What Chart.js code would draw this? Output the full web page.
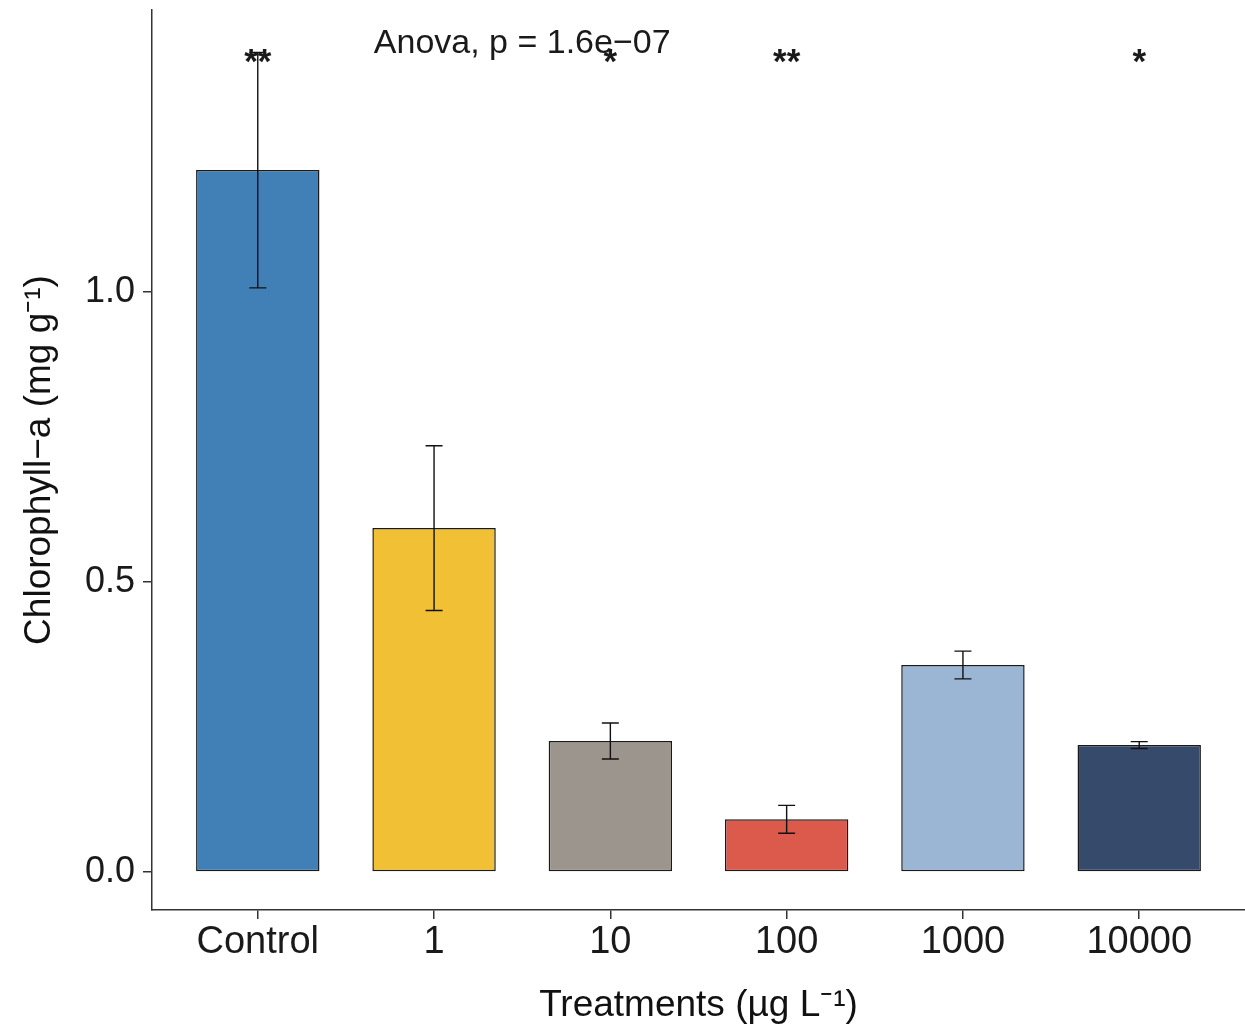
<!DOCTYPE html>
<html>
<head>
<meta charset="utf-8">
<script src="https://cdn.jsdelivr.net/npm/chart.js@4/dist/chart.umd.min.js"></script>
<style>
  html, body { margin: 0; padding: 0; background: #ffffff; }
  canvas { display: block; }
</style>
</head>
<body>
<canvas id="chl-chart" width="1245" height="1028"></canvas>
<script>
// chart values
const categories = ['Control', '1', '10', '100', '1000', '10000'];
const meanValues = [1.21, 0.593, 0.226, 0.091, 0.357, 0.219];
const seValues = [0.203, 0.142, 0.031, 0.024, 0.024, 0.006];
const sigLabels = ['**', '', '*', '**', '', '*'];
const barColors = ['#4180B6', '#F2C035', '#9C958E', '#DB5A4B', '#9BB5D5', '#364B6B'];
const yTicks = [0, 0.5, 1.0];

const FONT = '"Liberation Sans", Arial, Helvetica, sans-serif';

// error bars + annotation text drawn in data coordinates
const annotations = {
    id: 'annotations',
    afterDatasetsDraw(chart) {
        const ctx = chart.ctx;
        const xs = chart.scales.x;
        const ys = chart.scales.y;
        ctx.save();
        ctx.strokeStyle = '#111';
        ctx.lineWidth = 1.4;
        meanValues.forEach((m, i) => {
            const px = xs.getPixelForValue(i);
            const top = ys.getPixelForValue(m + seValues[i]);
            const bot = ys.getPixelForValue(m - seValues[i]);
            ctx.beginPath();
            ctx.moveTo(px, top); ctx.lineTo(px, bot);
            ctx.moveTo(px - 8.5, top); ctx.lineTo(px + 8.5, top);
            ctx.moveTo(px - 8.5, bot); ctx.lineTo(px + 8.5, bot);
            ctx.stroke();
        });

        ctx.fillStyle = '#1a1a1a';
        ctx.textAlign = 'center';
        ctx.textBaseline = 'alphabetic';
        ctx.font = 'bold 35px ' + FONT;
        sigLabels.forEach((s, i) => {
            if (!s) return;
            ctx.fillText(s, xs.getPixelForValue(i), ys.getPixelForValue(1.378));
        });
        ctx.font = '34px ' + FONT;
        ctx.fillText('Anova, p = 1.6e\u221207', xs.getPixelForValue(1.5), ys.getPixelForValue(1.412));
        ctx.restore();
    }
};

const ctx = document.getElementById('chl-chart').getContext('2d');
new Chart(ctx, {
    type: 'bar',
    data: {
        datasets: [{
            data: meanValues.map((v, i) => ({ x: i, y: v })),
            backgroundColor: barColors,
            borderColor: '#1a1a1a',
            borderWidth: 1.5,
            borderSkipped: false,
            barPercentage: 0.7,
            categoryPercentage: 1.0
        }]
    },
    options: {
        responsive: false,
        animation: false,
        layout: { padding: { top: 10, left: 0, right: 0, bottom: 0 } },
        plugins: {
            legend: { display: false },
            tooltip: { enabled: false }
        },
        scales: {
            x: {
                type: 'linear',
                min: -0.6,
                max: 5.6,
                offset: false,
                afterFit: s => { s.height = 118; s.paddingLeft = 0; s.paddingRight = 0; },
                border: { color: '#333', width: 1.5 },
                grid: { offset: false, drawOnChartArea: false, color: '#333', lineWidth: 1.5, tickLength: 9 },
                ticks: {
                    stepSize: 1,
                    includeBounds: false,
                    autoSkip: false,
                    maxRotation: 0,
                    padding: 1,
                    color: '#1a1a1a',
                    font: { family: FONT, size: 38 },
                    callback: v => categories[v]
                },
                title: {
                    display: true,
                    text: 'Treatments (\u00b5g L\u207b\u00b9)',
                    color: '#111',
                    font: { family: FONT, size: 37 },
                    padding: { top: 2, bottom: 0 }
                }
            },
            y: {
                min: -0.0653,
                max: 1.486,
                afterFit: s => { s.width = 152; s.paddingTop = 0; s.paddingBottom = 0; },
                border: { color: '#333', width: 1.5 },
                grid: { drawOnChartArea: false, color: '#333', lineWidth: 1.5, tickLength: 9 },
                ticks: {
                    stepSize: 0.5,
                    includeBounds: false,
                    padding: 8,
                    color: '#1a1a1a',
                    font: { family: FONT, size: 36 },
                    callback: v => yTicks.includes(v) ? v.toFixed(1) : null
                },
                title: {
                    display: true,
                    text: 'Chlorophyll\u2212a (mg g\u207b\u00b9)',
                    color: '#111',
                    font: { family: FONT, size: 37 },
                    padding: { top: 18, bottom: 0 }
                }
            }
        }
    },
    plugins: [annotations]
});
</script>
</body>
</html>
